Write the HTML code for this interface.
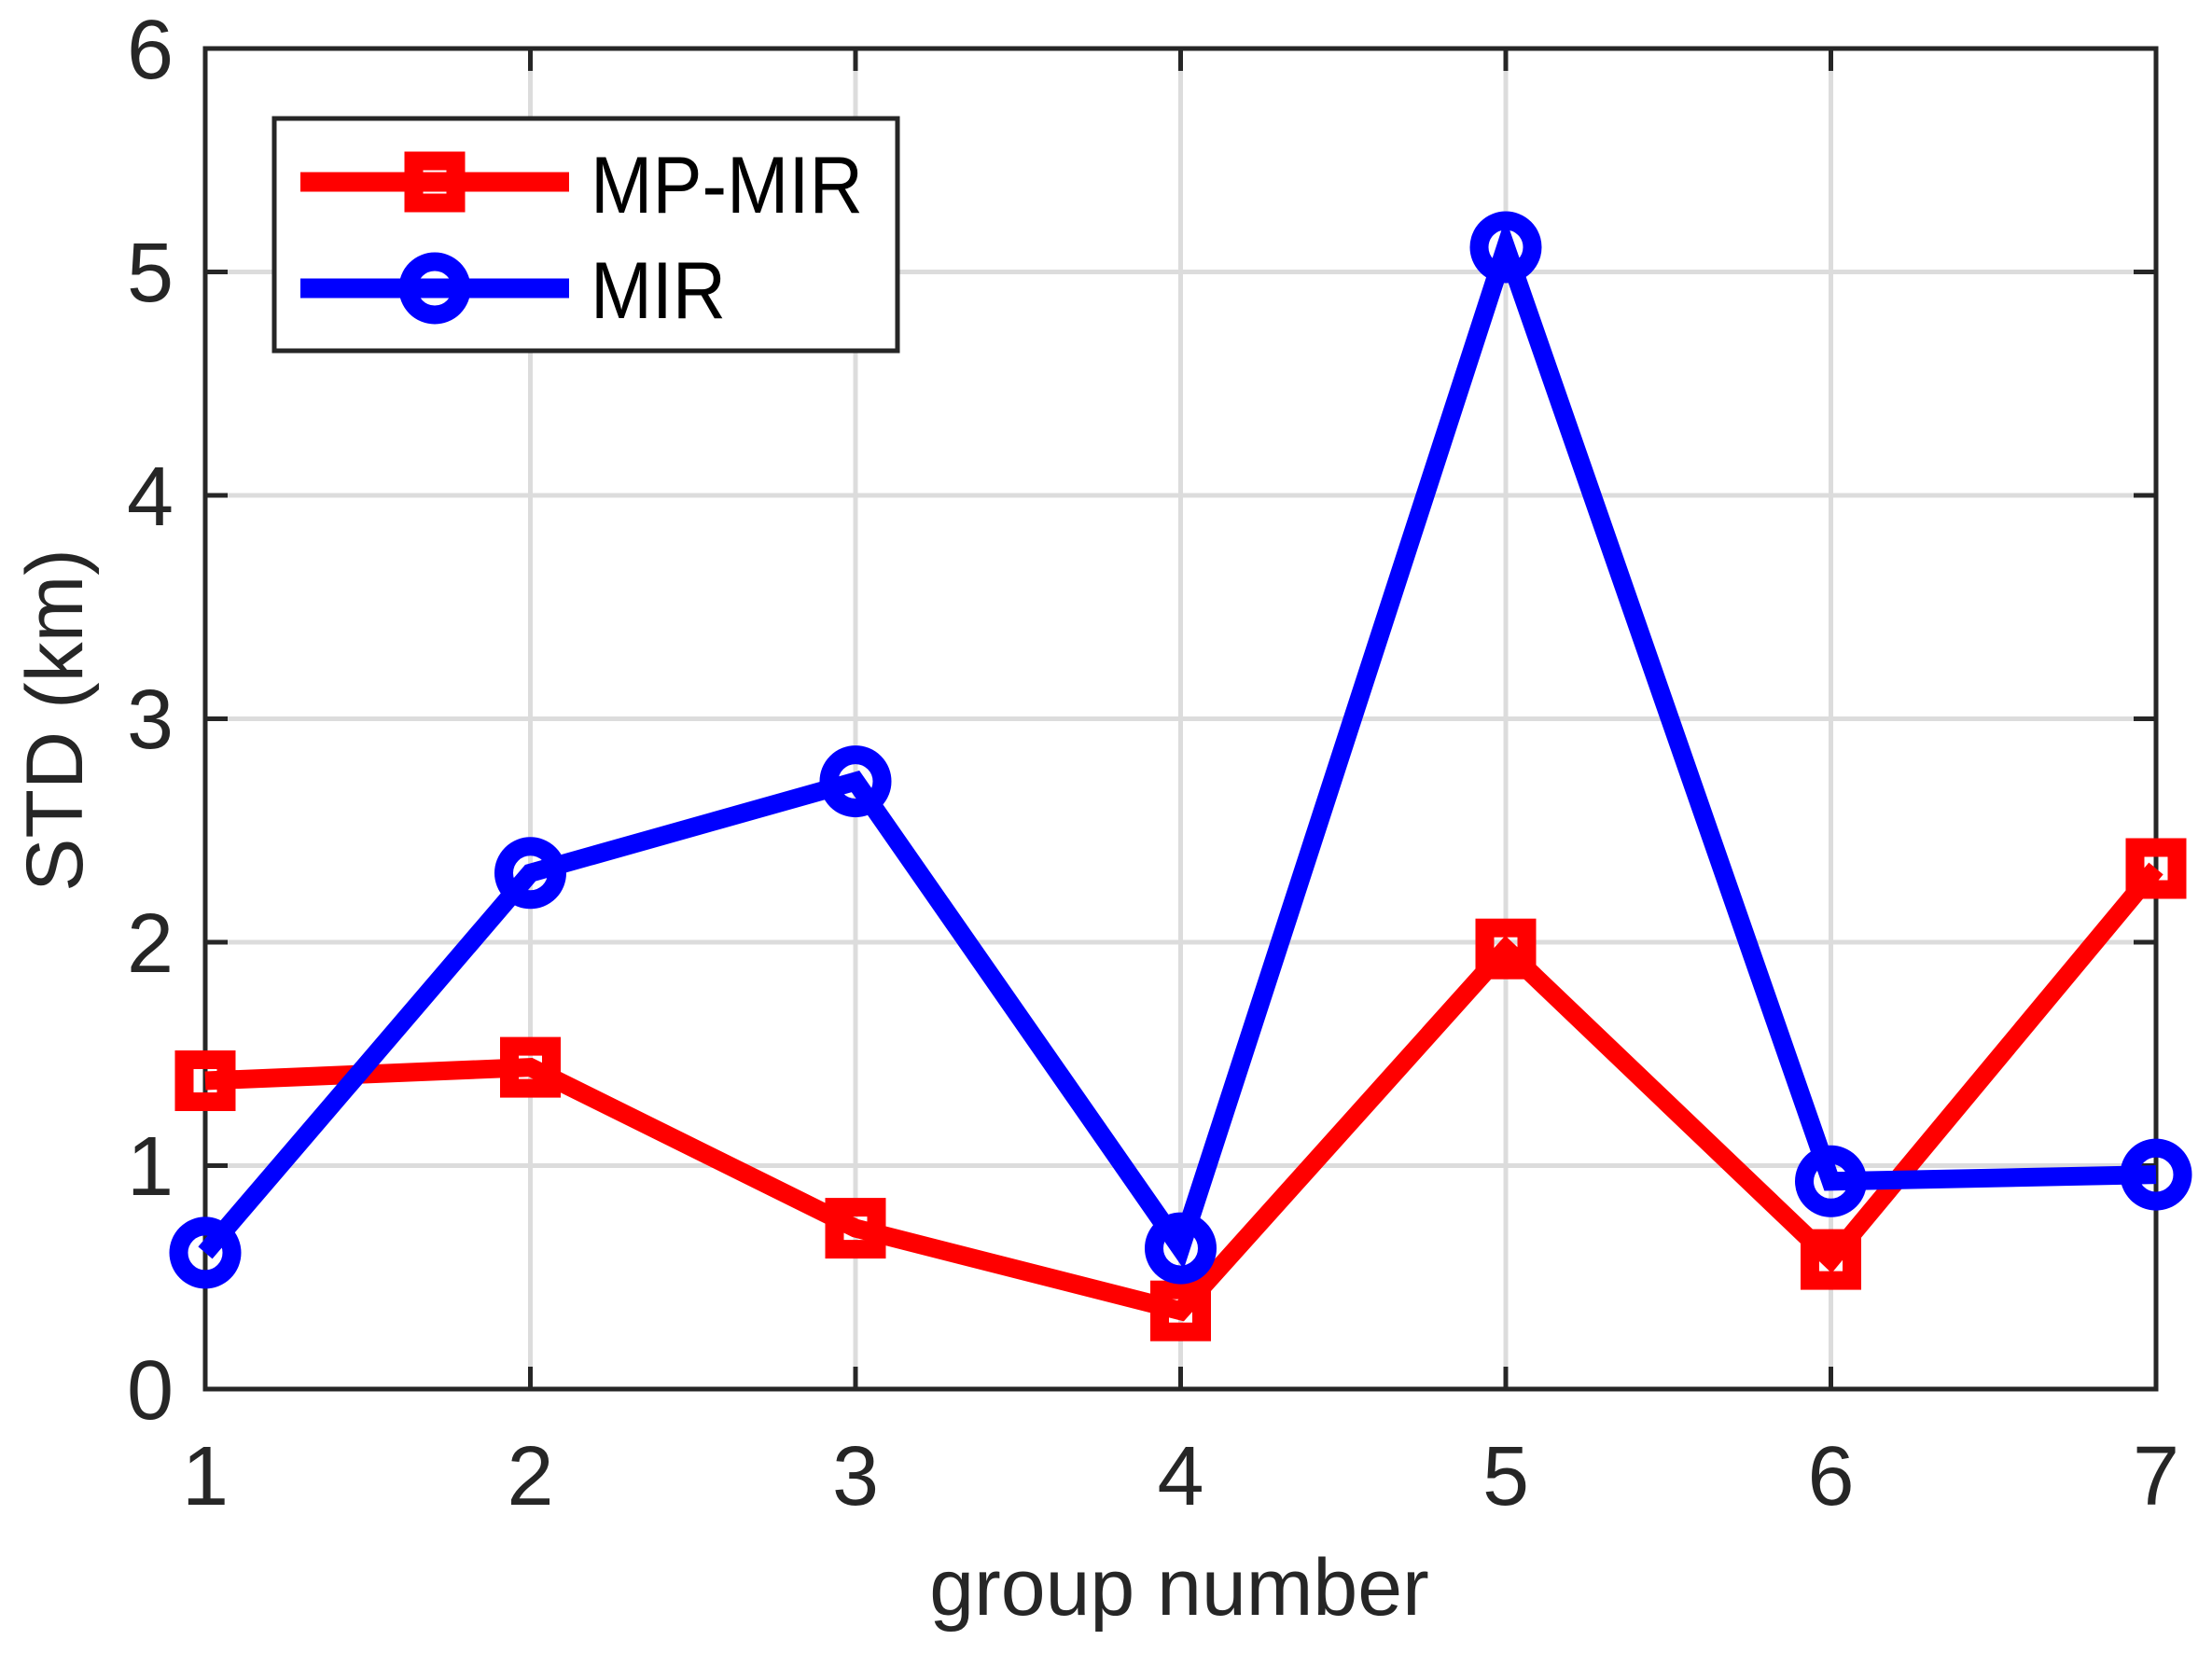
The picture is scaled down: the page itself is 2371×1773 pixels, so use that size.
<!DOCTYPE html>
<html><head><style>html,body{margin:0;padding:0;background:#fff}svg{display:block}</style></head>
<body>
<svg width="2371" height="1773" viewBox="0 0 2371 1773" xmlns="http://www.w3.org/2000/svg" font-family="Liberation Sans, sans-serif">
<rect width="2371" height="1773" fill="#fff"/>
<g stroke="#dcdcdc" stroke-width="5">
<line x1="568.5" y1="52" x2="568.5" y2="1489"/><line x1="917" y1="52" x2="917" y2="1489"/><line x1="1265.5" y1="52" x2="1265.5" y2="1489"/><line x1="1614" y1="52" x2="1614" y2="1489"/><line x1="1962.5" y1="52" x2="1962.5" y2="1489"/>
<line x1="220" y1="1249.5" x2="2311" y2="1249.5"/><line x1="220" y1="1010" x2="2311" y2="1010"/><line x1="220" y1="770.5" x2="2311" y2="770.5"/><line x1="220" y1="531" x2="2311" y2="531"/><line x1="220" y1="291.5" x2="2311" y2="291.5"/>
</g>
<g stroke="#262626" stroke-width="5">
<path d="M568.5 1489v-24M917 1489v-24M1265.5 1489v-24M1614 1489v-24M1962.5 1489v-24M568.5 52v24M917 52v24M1265.5 52v24M1614 52v24M1962.5 52v24"/>
<path d="M220 1249.5h24M220 1010h24M220 770.5h24M220 531h24M220 291.5h24M2311 1249.5h-24M2311 1010h-24M2311 770.5h-24M2311 531h-24M2311 291.5h-24"/>
<rect x="220" y="52" width="2091" height="1437" fill="none"/>
</g>
<g fill="none" stroke-width="20" stroke-linejoin="miter">
<polyline stroke="#ff0000" points="220,1158.5 568.5,1144.1 917,1316.6 1265.5,1405.2 1614,1017.2 1962.5,1350.1 2311,931"/>
<g stroke="#ff0000">
<rect x="197.5" y="1136" width="45" height="45"/><rect x="546" y="1121.6" width="45" height="45"/><rect x="894.5" y="1294.1" width="45" height="45"/><rect x="1243" y="1382.7" width="45" height="45"/><rect x="1591.5" y="994.7" width="45" height="45"/><rect x="1940" y="1327.6" width="45" height="45"/><rect x="2288.5" y="908.5" width="45" height="45"/>
</g>
<polyline stroke="#0000ff" points="220,1342.9 568.5,935.8 917,837.6 1265.5,1338.1 1614,265 1962.5,1266.3 2311,1259.1"/>
<g stroke="#0000ff">
<circle cx="220" cy="1342.9" r="28.5"/><circle cx="568.5" cy="935.8" r="28.5"/><circle cx="917" cy="837.6" r="28.5"/><circle cx="1265.5" cy="1338.1" r="28.5"/><circle cx="1614" cy="265" r="28.5"/><circle cx="1962.5" cy="1266.3" r="28.5"/><circle cx="2311" cy="1259.1" r="28.5"/>
</g>
</g>
<rect x="294" y="127" width="668" height="249" fill="#fff" stroke="#262626" stroke-width="5"/>
<line x1="322" y1="195" x2="610" y2="195" stroke="#ff0000" stroke-width="21"/>
<rect x="443.5" y="172.5" width="45" height="45" fill="none" stroke="#ff0000" stroke-width="20"/>
<line x1="322" y1="309" x2="610" y2="309" stroke="#0000ff" stroke-width="21"/>
<circle cx="466" cy="309" r="28.5" fill="none" stroke="#0000ff" stroke-width="20"/>
<g font-size="86" fill="#000"><text x="633" y="228" textLength="292" lengthAdjust="spacingAndGlyphs">MP-MIR</text><text x="633" y="341" textLength="145" lengthAdjust="spacingAndGlyphs">MIR</text></g>
<g font-size="90" fill="#262626" text-anchor="middle">
<text x="220" y="1613">1</text><text x="568.5" y="1613">2</text><text x="917" y="1613">3</text><text x="1265.5" y="1613">4</text><text x="1614" y="1613">5</text><text x="1962.5" y="1613">6</text><text x="2311" y="1613">7</text>
</g>
<g font-size="90" fill="#262626" text-anchor="end">
<text x="186" y="1521">0</text><text x="186" y="1281">1</text><text x="186" y="1042">2</text><text x="186" y="802">3</text><text x="186" y="563">4</text><text x="186" y="323">5</text><text x="186" y="84">6</text>
</g>
<text x="1264" y="1731" font-size="86" fill="#262626" text-anchor="middle">group number</text>
<text transform="translate(88,772) rotate(-90)" font-size="86" fill="#262626" text-anchor="middle">STD (km)</text>
</svg>
</body></html>
